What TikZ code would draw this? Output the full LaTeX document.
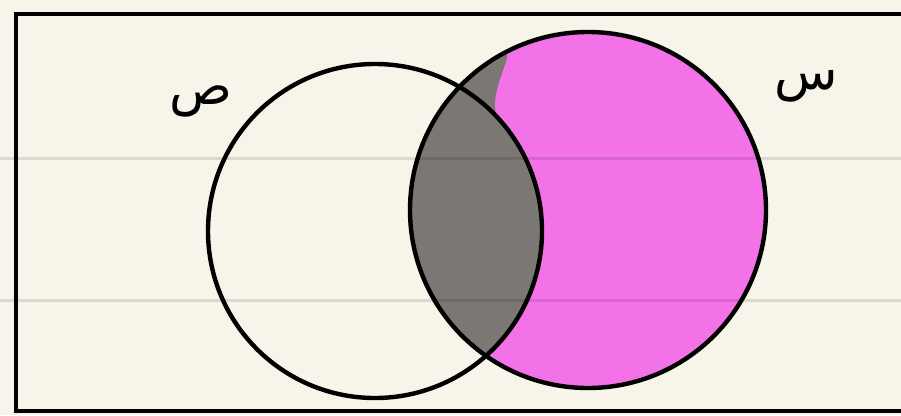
\documentclass[tikz,border=0pt]{standalone}
\usepackage{fontspec}
\TeXXeTstate=1
\newfontfamily\arabicfont[Script=Arabic]{DejaVu Sans}
\definecolor{bg}{HTML}{F7F4E9}
\definecolor{pinkfill}{HTML}{F472E8}
\definecolor{greyfill}{HTML}{7B7873}
\tikzset{
  nbline/.style={black,opacity=0.11,line width=3pt},
  ring/.style={draw=black,line width=4.4pt},
  lbl/.style={font=\fontsize{52}{62}\arabicfont,inner sep=0pt}
}
\begin{document}
\begin{tikzpicture}[x=1pt,y=-1pt]
\useasboundingbox (0,0) rectangle (901,415);
\fill[bg] (0,0) rectangle (901,415);
% fills
\fill[pinkfill] (588,210) circle (178);
\begin{scope}
  \clip (588,210) circle (178);
  \fill[greyfill] (375,231) circle (167);
  \fill[greyfill] (450,40) -- (508,40) -- (507,58)
     .. controls (502,75) and (494,92) .. (495,108)
     .. controls (496,118) and (500,128) .. (503,138)
     -- (450,138) -- cycle;
\end{scope}
% notebook lines
\draw[nbline] (0,158) -- (901,158);
\draw[nbline] (0,300) -- (901,300);
% frame
\draw[line width=4.8pt] (915,14) -- (16,14) -- (16,411) -- (915,411);
% circles
\draw[ring] (375,231) circle (167);
\draw[ring] (588,210) circle (178);
% labels
\node[lbl] (sad) at (201,101) {\beginR ص\endR};
\node[lbl] (sin) at (806,86) {\beginR س\endR};
\end{tikzpicture}
\end{document}
